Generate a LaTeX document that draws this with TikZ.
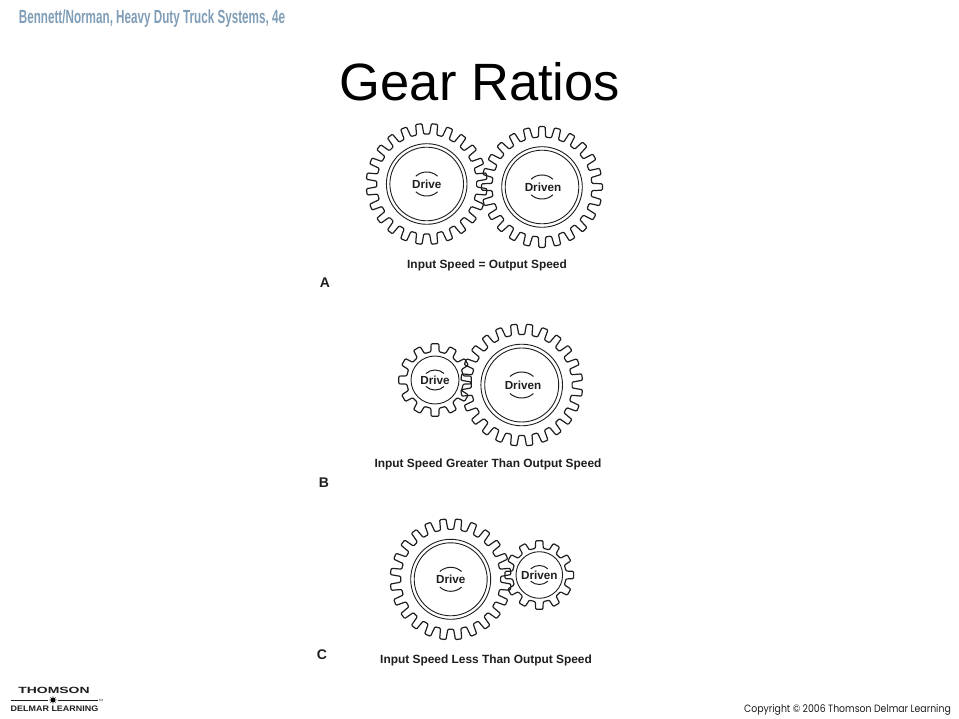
\documentclass[tikz,border=0pt]{standalone}
\usepackage{fontspec}
\setmainfont{Liberation Sans}
\newfontfamily\copyfont{Poppins}
\usetikzlibrary{
  shapes.geometric,
}
\definecolor{headblue}{RGB}{128,158,184}
\definecolor{inkgray}{RGB}{30,30,30}
\newcommand{\gear}[5]{
  \begin{scope}[shift={(#1)}]
    \pgfmathsetmacro{\gp}{360/#2}
    \draw[gear line]
      ({#5-0.28*\gp}:#4)
      \foreach \k in {1,...,#2} {
        -- ({#5+(\k-1)*\gp-0.28*\gp}:#4)
        -- ({#5+(\k-1)*\gp-0.2*\gp}:#3)
        -- ({#5+(\k-1)*\gp+0.2*\gp}:#3)
        -- ({#5+(\k-1)*\gp+0.28*\gp}:#4)
      } -- cycle;
  \end{scope}
}
\newcommand{\hub}[3]{
  \draw[hub line] (#1) circle (#2);
  \draw[hub line] (#1) circle (#3);
}
\newcommand{\turn}[2]{
  \pgfmathsetmacro{\tr}{1.35*#2}
  \pgfmathsetmacro{\td}{0.35*#2}
  \draw[turn line] (#1) ++(0,-\td) ++(132:\tr) arc (132:48:\tr);
  \draw[turn line] (#1) ++(0,\td) ++(228:\tr) arc (228:312:\tr);
}
\tikzset{
  gear line/.style={
    draw=inkgray,
    line width=1.2pt,
    line join=round,
    rounded corners=1pt
  },
  hub line/.style={
    draw=inkgray,
    line width=0.9pt
  },
  turn line/.style={
    draw=inkgray,
    line width=1pt
  },
  gear text/.style={
    font=\bfseries\fontsize{11.7}{12}\selectfont,
    text=inkgray,
    inner sep=0pt
  },
  caption/.style={
    font=\bfseries\fontsize{11.9}{13}\selectfont,
    text=inkgray,
    inner sep=0pt
  },
  part/.style={
    font=\bfseries\fontsize{14}{16}\selectfont,
    text=inkgray,
    inner sep=0pt
  }
}
\begin{document}
\begin{tikzpicture}[x=1pt,y=-1pt]
\useasboundingbox (0,0) rectangle (959,719);
\node[inner sep=0pt,text=headblue,font=\bfseries\fontsize{19}{22}\selectfont,xscale=0.615] (head) at (152,19) {Bennett/Norman, Heavy Duty Truck Systems, 4e};
\node[inner sep=0pt,font=\fontsize{52.5}{56}\selectfont] (title) at (480,82) {Gear Ratios};
% A
\coordinate (ca1) at (426.7,184);
\coordinate (ca2) at (542,187);
\gear{ca1}{24}{60.5}{50}{7.5}
\gear{ca2}{24}{60.5}{50}{0}
\hub{ca1}{40.3}{36.8}
\hub{ca2}{40.3}{36.8}
\turn{ca1}{12}
\turn{ca2}{12}
\node[gear text] (drive a) at (ca1) {Drive};
\node[gear text] (driven a) at (543,187) {Driven};
\node[caption] (cap a) at (487,265.5) {Input Speed = Output Speed};
\node[part] (a) at (325,283) {A};
% B
\coordinate (cb1) at (435,380);
\coordinate (cb2) at (521.7,385);
\gear{cb1}{12}{36.5}{28.5}{0}
\gear{cb2}{24}{61}{50.5}{7.5}
\draw[hub line] (cb1) circle (24);
\hub{cb2}{40.8}{37}
\turn{cb1}{10}
\turn{cb2}{13}
\node[gear text] (drive b) at (cb1) {Drive};
\node[gear text] (driven b) at (523,385) {Driven};
\node[caption] (cap b) at (488,464) {Input Speed Greater Than Output Speed};
\node[part] (b) at (324,483) {B};
% C
\coordinate (cc1) at (450.7,579.3);
\coordinate (cc2) at (539.3,575);
\gear{cc1}{24}{60.5}{50}{7.5}
\gear{cc2}{12}{34.5}{27}{0}
\hub{cc1}{40}{36.5}
\draw[hub line] (cc2) circle (23.3);
\turn{cc1}{12}
\turn{cc2}{9.5}
\node[gear text] (drive c) at (cc1) {Drive};
\node[gear text] (driven c) at (cc2) {Driven};
\node[caption] (cap c) at (486,660) {Input Speed Less Than Output Speed};
\node[part] (c) at (322,655) {C};
% logo
\node[inner sep=0pt,font=\bfseries\fontsize{9}{12}\selectfont,text=inkgray,xscale=1.55] (thomson) at (54,690) {THOMSON};
\node[draw=none,fill=black,star,star points=8,star point ratio=2.4,minimum size=8pt,inner sep=0pt] (star) at (53,700) {};
\coordinate (rule l) at (11,700);
\coordinate (rule r) at (98,700);
\draw[line width=0.6pt,inkgray] (rule l) -- (star) -- (rule r);
\node[inner sep=0pt,font=\fontsize{3}{3}\selectfont,text=inkgray] (tm) at (101,700) {TM};
\node[inner sep=0pt,font=\bfseries\fontsize{8}{10}\selectfont,text=inkgray,xscale=1.12] (delmar) at (54.5,709) {DELMAR LEARNING};
\node[inner sep=0pt,font=\copyfont\fontsize{10.6}{12}\selectfont,text=inkgray,xscale=0.88] (copy) at (847.5,709.5) {Copyright © 2006 Thomson Delmar Learning};
\end{tikzpicture}
\end{document}
